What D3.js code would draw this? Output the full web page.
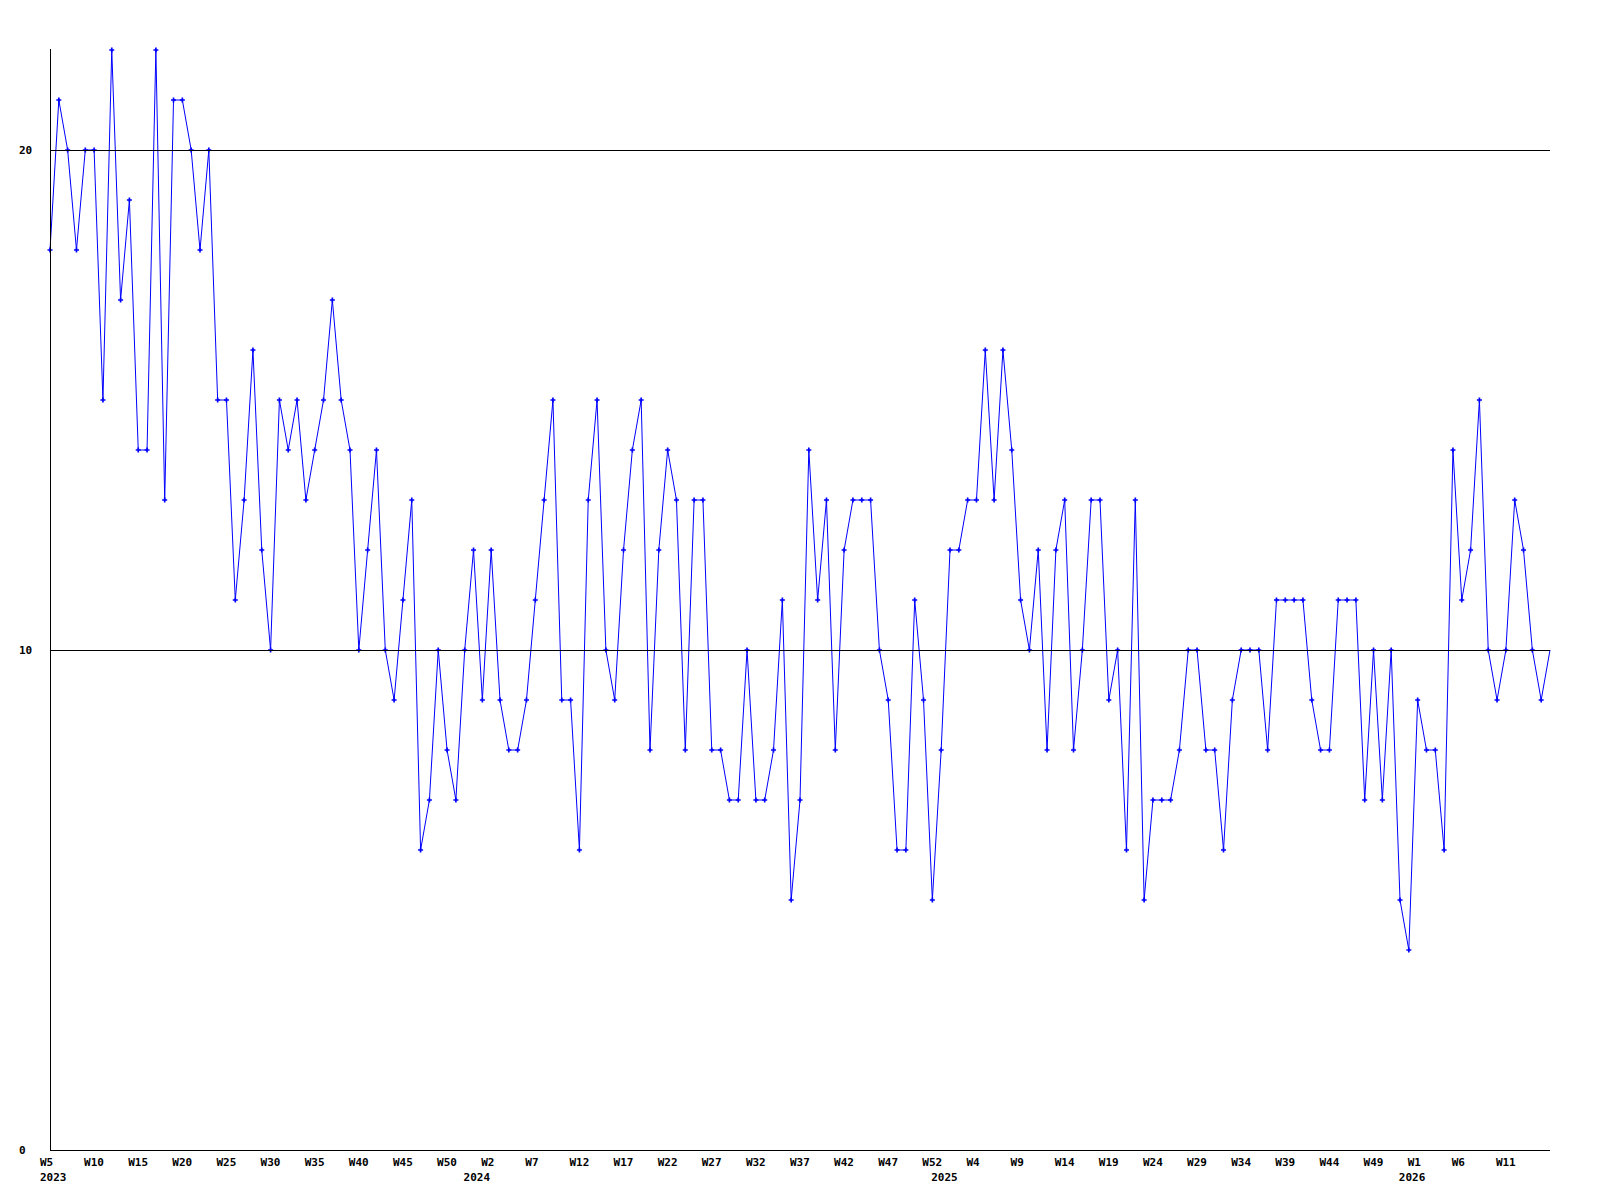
<!DOCTYPE html>
<html>
<head>
<meta charset="utf-8">
<script src="https://cdn.jsdelivr.net/npm/d3@7"></script>
<style>
    body { margin: 0; background: #ffffff; }
    text { font-family: "DejaVu Sans Mono", monospace; font-size: 11px; font-weight: bold; fill: #000000; }
</style>
</head>
<body>
<svg id="weeklyChart"></svg>
<script>
// weekly counts, first point is 2023 W5
var counts = [
    18, 21, 20, 18, 20, 20, 15, 22, 17, 19, 14, 14, 22, 13, 21, 21, 20, 18, 20, 15,
    15, 11, 13, 16, 12, 10, 15, 14, 15, 13, 14, 15, 17, 15, 14, 10, 12, 14, 10, 9,
    11, 13, 6, 7, 10, 8, 7, 10, 12, 9, 12, 9, 8, 8, 9, 11, 13, 15, 9, 9,
    6, 13, 15, 10, 9, 12, 14, 15, 8, 12, 14, 13, 8, 13, 13, 8, 8, 7, 7, 10,
    7, 7, 8, 11, 5, 7, 14, 11, 13, 8, 12, 13, 13, 13, 10, 9, 6, 6, 11, 9,
    5, 8, 12, 12, 13, 13, 16, 13, 16, 14, 11, 10, 12, 8, 12, 13, 8, 10, 13, 13,
    9, 10, 6, 13, 5, 7, 7, 7, 8, 10, 10, 8, 8, 6, 9, 10, 10, 10, 8, 11,
    11, 11, 11, 9, 8, 8, 11, 11, 11, 7, 10, 7, 10, 5, 4, 9, 8, 8, 6, 14,
    11, 12, 15, 10, 9, 10, 13, 12, 10, 9, 10
];

// one label every 5 weeks
var weekLabels = [
    "W5", "W10", "W15", "W20", "W25", "W30", "W35", "W40", "W45", "W50",
    "W2", "W7", "W12", "W17", "W22", "W27", "W32", "W37", "W42", "W47", "W52",
    "W4", "W9", "W14", "W19", "W24", "W29", "W34", "W39", "W44", "W49",
    "W1", "W6", "W11"
];
var years = ["2023", "2024", "2025", "2026"];
var yearStarts = [0, 48, 101, 154];

var yTicks = [0, 10, 20];
var yMax = 22;

var width = 1500;
var height = 1100;
var margin = { "left": 50, "top": 50 };

var svg = d3.select("#weeklyChart")
    .attr("width", 1600)
    .attr("height", 1200);

svg.append("rect")
    .attr("width", 1600)
    .attr("height", 1200)
    .attr("fill", "#ffffff");

var x = d3.scaleLinear()
    .domain([0, counts.length - 1])
    .range([margin.left, margin.left + width]);

var y = d3.scaleLinear()
    .domain([0, yMax])
    .range([margin.top + height, margin.top]);

// the line
var lineFn = d3.line()
    .x((d, i) => x(i))
    .y(d => y(d));

svg.append("path")
    .datum(counts)
    .attr("d", lineFn)
    .attr("fill", "none")
    .attr("stroke", "#0000ff")
    .attr("stroke-width", 1);

// point markers (none on the last point)
svg.append("g")
    .selectAll("path")
    .data(counts.slice(0, counts.length - 1))
    .enter()
    .append("path")
    .attr("d", d3.symbol().type(d3.symbolCross).size(14))
    .attr("transform", (d, i) => "translate(" + x(i) + "," + y(d) + ")")
    .attr("fill", "#0000ff");

// gridlines
svg.append("g")
    .selectAll("line")
    .data(yTicks.filter(d => d > 0))
    .enter()
    .append("line")
    .attr("x1", margin.left)
    .attr("x2", margin.left + width)
    .attr("y1", d => Math.round(y(d)) + 0.5)
    .attr("y2", d => Math.round(y(d)) + 0.5)
    .attr("stroke", "#000000")
    .attr("stroke-width", 1);

// axes
svg.append("line")
    .attr("x1", margin.left + 0.5)
    .attr("x2", margin.left + 0.5)
    .attr("y1", margin.top - 1)
    .attr("y2", y(0))
    .attr("stroke", "#000000");

svg.append("line")
    .attr("x1", margin.left)
    .attr("x2", margin.left + width)
    .attr("y1", Math.round(y(0)) + 0.5)
    .attr("y2", Math.round(y(0)) + 0.5)
    .attr("stroke", "#000000");

// y labels
svg.append("g")
    .selectAll("text")
    .data(yTicks)
    .enter()
    .append("text")
    .attr("x", 19)
    .attr("y", d => y(d) + 4)
    .text(d => d);

// week labels
svg.append("g")
    .selectAll("text")
    .data(weekLabels)
    .enter()
    .append("text")
    .attr("x", (d, i) => x(i * 5) - 10)
    .attr("y", 1166)
    .text(d => d);

// year labels
svg.append("g")
    .selectAll("text")
    .data(years)
    .enter()
    .append("text")
    .attr("x", (d, i) => x(yearStarts[i]) - 10)
    .attr("y", 1181)
    .text(d => d);
</script>
</body>
</html>
